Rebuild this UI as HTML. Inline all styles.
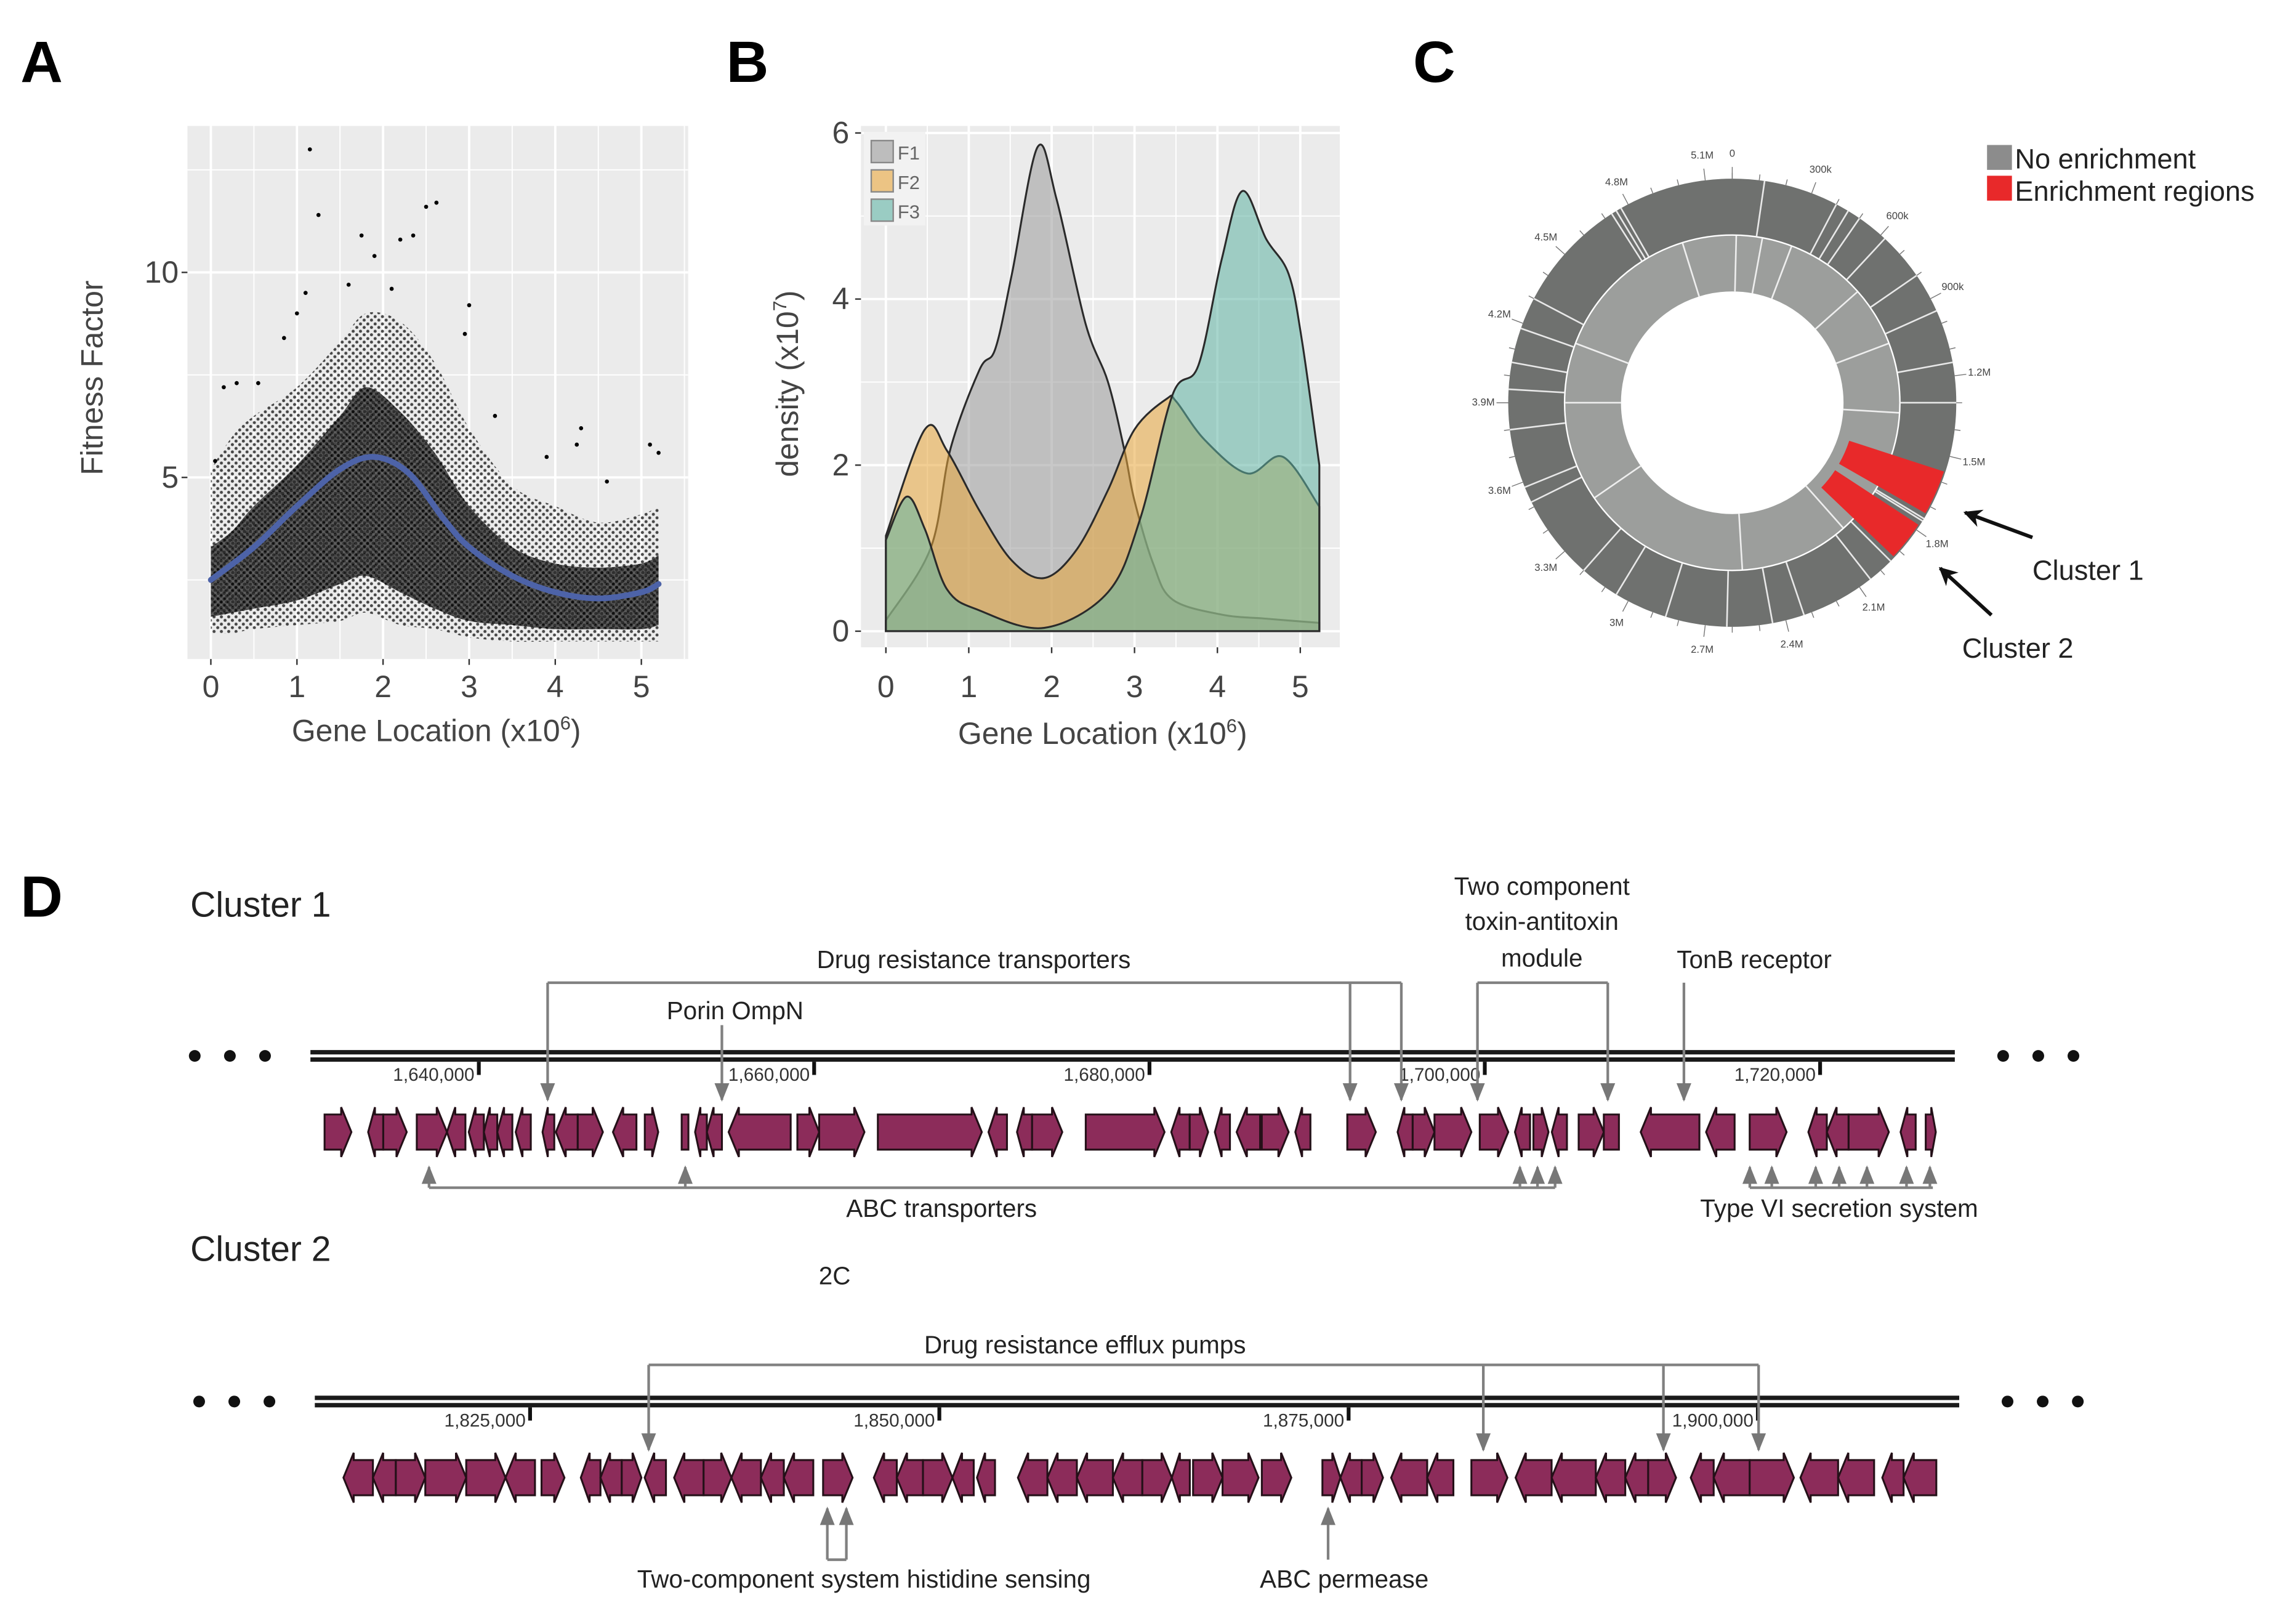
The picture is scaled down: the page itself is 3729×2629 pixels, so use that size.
<!DOCTYPE html>
<html><head><meta charset="utf-8">
<style>
html,body{margin:0;padding:0;background:#fff;}
svg{display:block;}
text{font-family:"Liberation Sans",sans-serif;}
</style></head>
<body>
<svg id="fig" width="3729" height="2629" viewBox="0 0 1568 1105.5" preserveAspectRatio="none" xmlns="http://www.w3.org/2000/svg">
<defs>
<pattern id="dots" width="5" height="5" patternUnits="userSpaceOnUse">
<circle cx="1.2" cy="1.2" r="1.05" fill="#000"/><circle cx="3.7" cy="3.6" r="1.05" fill="#000"/>
</pattern>
<pattern id="dots2" width="4" height="4" patternUnits="userSpaceOnUse">
<rect width="4" height="4" fill="#3a3a3a"/>
<circle cx="1" cy="1" r="1.2" fill="#000"/><circle cx="3" cy="3" r="1.2" fill="#000"/>
</pattern>
<marker id="ah" viewBox="0 0 10 10" refX="9" refY="5" markerWidth="7" markerHeight="7" orient="auto"><path d="M0,1 L10,5 L0,9 z" fill="#777"/></marker>
<marker id="ahk" viewBox="0 0 10 10" refX="9" refY="5" markerWidth="5" markerHeight="5" orient="auto"><path d="M0,0 L10,5 L0,10 L3,5 z" fill="#111"/></marker>
</defs>
<g id="root"></g>
</svg>
<script>
// ---------- Panel A data ----------
const aX = [0,0.25,0.5,1,1.5,1.8,2.2,2.6,3,3.5,4,4.5,5,5.2];
const aLo = [1.2,1.2,1.3,1.4,1.5,1.7,1.4,1.3,1.1,1.0,1.0,1.0,1.0,1.0];
const aHi = [5.2,6.0,6.5,7.2,8.3,9.0,8.8,7.8,6.2,4.8,4.3,3.9,4.1,4.3];
const aCoreLo = [1.6,1.7,1.8,2.0,2.4,2.6,2.2,1.8,1.5,1.4,1.3,1.3,1.3,1.4];
const aCoreHi = [3.3,3.7,4.3,5.3,6.5,7.2,6.6,5.6,4.3,3.3,2.9,2.8,2.9,3.1];
const aOutX = [1.15,1.25,2.5,2.62,1.1,2.2,2.35,1.75,1.9,4.3,4.25,5.1,0.3,0.55,3.0,2.95,2.1,0.85,1.0,3.3,3.9,4.6,5.2,0.05,0.15,1.6];
const aOutY = [13.0,11.4,11.6,11.7,9.5,10.8,10.9,10.9,10.4,6.2,5.8,5.8,7.3,7.3,9.2,8.5,9.6,8.4,9.0,6.5,5.5,4.9,5.6,5.4,7.2,9.7];
const smX = [0,0.5,1,1.5,1.9,2.3,2.7,3,3.5,4,4.5,5,5.2];
const smY = [2.5,3.3,4.3,5.2,5.5,5.1,4.0,3.3,2.6,2.2,2.05,2.2,2.4];
const aXTicks = [0,1,2,3,4,5];
const aYTicks = [5,10];
// ---------- Panel B data ----------
const f1X = [0,0.54,0.78,1.13,1.32,1.52,1.83,2.06,2.41,2.68,2.88,3.0,3.23,3.46,4.05,4.6,5.23];
const f1Y = [0.13,1.0,2.2,3.15,3.4,4.3,5.83,5.2,3.7,3.0,2.17,1.57,0.8,0.38,0.2,0.15,0.1];
const f2X = [0,0.47,0.74,1.13,1.52,1.91,2.3,2.68,3.0,3.39,3.5,3.85,4.36,4.79,5.23];
const f2Y = [1.15,2.43,2.17,1.45,0.85,0.64,0.98,1.7,2.43,2.8,2.77,2.3,1.9,2.1,1.5];
const f3X = [0,0.25,0.47,0.74,1.13,1.91,2.68,3.07,3.46,3.77,4.05,4.3,4.59,4.86,5.02,5.23];
const f3Y = [1.1,1.62,1.23,0.5,0.25,0.04,0.47,1.36,2.85,3.2,4.47,5.3,4.72,4.3,3.5,2.0];
const bXTicks = [0,1,2,3,4,5];
const bYTicks = [0,2,4,6];
// ---------- Panel C data ----------
const cTickLabels = ["0","300k","600k","900k","1.2M","1.5M","1.8M","2.1M","2.4M","2.7M","3M","3.3M","3.6M","3.9M","4.2M","4.5M","4.8M","5.1M"];
const cTickPos = [0,0.3,0.6,0.9,1.2,1.5,1.8,2.1,2.4,2.7,3.0,3.3,3.6,3.9,4.2,4.5,4.8,5.1];
const cEnrichStart = [1.56,1.78];
const cEnrichEnd = [1.73,1.93];
const cGapsOuter = [0.12,0.45,0.62,0.95,1.15,1.75,1.76,1.95,2.05,2.33,2.45,2.62,2.85,3.05,3.2,3.52,3.58,3.8,3.95,4.05,4.18,4.3,4.73,4.75,4.77,0.4,0.5,0.8,1.3];
const cGapsInner = [0.02,0.15,0.3,1.35,2.0,2.55,3.4,3.9,4.2,4.95,0.7,1.0];
// ---------- Panel D data (kb) ----------
const c1Start = [1630.8,1633.4,1634.3,1636.3,1638.1,1639.4,1640.3,1641.1,1642.2,1643.8,1644.6,1645.9,1648.0,1649.9,1652.1,1652.9,1653.6,1654.9,1659.0,1660.3,1663.8,1670.4,1672.1,1673.0,1676.2,1681.3,1682.4,1683.9,1685.2,1686.7,1688.7,1691.8,1694.8,1695.7,1697.0,1699.7,1701.8,1702.9,1704.0,1705.6,1707.1,1709.3,1713.2,1715.8,1719.3,1720.4,1721.7,1724.8,1726.3];
const c1End = [1632.4,1634.3,1635.7,1638.1,1639.2,1640.3,1641.1,1642.0,1643.1,1644.5,1645.9,1647.4,1649.4,1650.7,1652.5,1653.6,1654.5,1658.6,1660.3,1663.0,1670.0,1671.5,1673.0,1674.8,1680.9,1682.4,1683.5,1684.8,1686.6,1688.3,1689.6,1693.5,1695.7,1697.0,1699.2,1701.4,1702.7,1703.8,1704.9,1707.1,1708.0,1712.8,1714.9,1718.0,1720.4,1721.7,1724.1,1725.7,1726.9];
const c1Dir = [1,-1,1,1,-1,-1,-1,-1,-1,-1,-1,1,-1,1,0,-1,-1,-1,1,1,1,-1,-1,1,1,-1,1,-1,-1,1,-1,1,-1,1,1,1,-1,1,-1,1,0,-1,-1,1,-1,-1,1,-1,1];
const c2Start = [1813.6,1815.4,1816.8,1818.6,1821.1,1823.5,1825.7,1828.1,1829.3,1830.6,1832.0,1833.8,1835.6,1837.3,1839.1,1840.5,1842.9,1846.0,1847.4,1849.0,1850.8,1852.3,1854.8,1856.6,1858.4,1860.6,1862.4,1864.2,1865.5,1867.3,1869.7,1873.4,1874.5,1875.8,1877.6,1879.8,1882.5,1885.2,1887.4,1890.1,1891.9,1893.3,1895.9,1897.3,1899.5,1902.6,1904.9,1907.6,1908.9];
const c2End = [1815.4,1816.8,1818.6,1821.1,1823.5,1825.3,1827.1,1829.3,1830.6,1831.8,1833.3,1835.6,1837.3,1839.1,1840.5,1842.3,1844.7,1847.4,1849.0,1850.8,1852.1,1853.4,1856.6,1858.4,1860.6,1862.4,1864.2,1865.3,1867.3,1869.5,1871.5,1874.5,1875.8,1877.1,1879.8,1881.4,1884.7,1887.4,1890.1,1891.9,1893.3,1895.0,1897.3,1899.5,1902.2,1904.9,1907.1,1908.9,1910.9];
const c2Dir = [-1,-1,1,1,1,-1,1,-1,-1,1,-1,-1,1,-1,-1,-1,1,-1,-1,1,-1,-1,-1,-1,-1,-1,1,-1,1,1,1,1,-1,1,-1,-1,1,-1,-1,-1,-1,1,-1,-1,1,-1,-1,-1,-1];
const c1Ticks = [1640000,1660000,1680000,1700000,1720000];
const c2Ticks = [1825000,1850000,1875000,1900000];

// ---------- helpers ----------
const NS="http://www.w3.org/2000/svg";
const root=document.getElementById('root');
function mk(tag,attrs,parent,txt){const e=document.createElementNS(NS,tag);for(const k in attrs)e.setAttribute(k,attrs[k]);if(txt!==undefined)e.textContent=txt;(parent||root).appendChild(e);return e;}
function smooth(pts){let d="M"+pts[0][0]+","+pts[0][1];for(let i=0;i<pts.length-1;i++){const p0=pts[i-1]||pts[i],p1=pts[i],p2=pts[i+1],p3=pts[i+2]||p2;const c1x=p1[0]+(p2[0]-p0[0])/6,c1y=p1[1]+(p2[1]-p0[1])/6,c2x=p2[0]-(p3[0]-p1[0])/6,c2y=p2[1]-(p3[1]-p1[1])/6;d+=` C${c1x},${c1y} ${c2x},${c2y} ${p2[0]},${p2[1]}`;}return d;}
function smoothBody(pts){return smooth(pts).replace(/^M[^C]*/,"");}

// ---------- Panel A ----------
let t=mk('text',{x:14,y:56,'font-size':40,'font-weight':'bold'},root,'A');


const gA=mk('g',{});


const ax=v=>144+v*58.8, ay=v=>466-v*28;
let bg=mk('rect',{x:128,y:86,width:342,height:364,fill:'#ebebeb'},gA);


for(let v=0;v<=5.5;v+=0.5){if(ax(v)<470)mk('line',{x1:ax(v),x2:ax(v),y1:86,y2:450,stroke:'#fff','stroke-width':Number.isInteger(v)?1.6:0.8},gA);}
for(let v=2.5;v<=13;v+=2.5){mk('line',{x1:128,x2:470,y1:ay(v),y2:ay(v),stroke:'#fff','stroke-width':(v%5===0)?1.6:0.8},gA);}
const outer=aX.map((x,i)=>[ax(x),ay(aHi[i])]),outerLo=aX.map((x,i)=>[ax(x),ay(aLo[i])]).reverse();
let ob=mk('path',{d:smooth(outer)+" L"+outerLo[0][0]+","+outerLo[0][1]+smoothBody(outerLo)+"Z",fill:'url(#dots)',opacity:0.7},gA);


const core=aX.map((x,i)=>[ax(x),ay(aCoreHi[i])]),coreLo=aX.map((x,i)=>[ax(x),ay(aCoreLo[i])]).reverse();
let cb=mk('path',{d:smooth(core)+" L"+coreLo[0][0]+","+coreLo[0][1]+smoothBody(coreLo)+"Z",fill:'url(#dots2)',opacity:0.8},gA);


aOutX.forEach((x,i)=>{const c=mk('circle',{cx:ax(x),cy:ay(aOutY[i]),r:1.4,fill:'#000'},gA);

});
let sm=mk('path',{d:smooth(smX.map((x,i)=>[ax(x),ay(smY[i])])),fill:'none',stroke:'#4d63a8','stroke-width':4,'stroke-linecap':'round'},gA);


aXTicks.forEach(v=>{mk('line',{x1:ax(v),x2:ax(v),y1:450,y2:454,stroke:'#333'},gA);
const tt=mk('text',{x:ax(v),y:476,'font-size':21,'text-anchor':'middle',fill:'#444'},gA,String(v));

});
aYTicks.forEach(v=>{mk('line',{x1:124,x2:128,y1:ay(v),y2:ay(v),stroke:'#333'},gA);
const tt=mk('text',{x:122,y:ay(v)+7,'font-size':21,'text-anchor':'end',fill:'#444'},gA,String(v));

});
t=mk('text',{x:298,y:506,'font-size':21,'text-anchor':'middle',fill:'#444'},gA);
t.innerHTML='Gene Location (x10<tspan dy="-8" font-size="13">6</tspan><tspan dy="8">)</tspan>';


t=mk('text',{x:70,y:258,'font-size':21,'text-anchor':'middle',fill:'#444',transform:'rotate(-90 70 258)'},gA,'Fitness Factor');



// ---------- Panel B ----------
t=mk('text',{x:496,y:56,'font-size':40,'font-weight':'bold'},root,'B');


const gB=mk('g',{});


const bx=v=>605+v*56.6, by=v=>431-v*56.7;
bg=mk('rect',{x:588,y:86,width:327,height:356,fill:'#ebebeb'},gB);


for(let v=0;v<=5.5;v+=0.5){if(bx(v)<915)mk('line',{x1:bx(v),x2:bx(v),y1:86,y2:442,stroke:'#fff','stroke-width':Number.isInteger(v)?1.6:0.8},gB);}
for(let v=0;v<=6;v+=1){mk('line',{x1:588,x2:915,y1:by(v),y2:by(v),stroke:'#fff','stroke-width':(v%2===0)?1.6:0.8},gB);}
function dens(xs,ys,fill,name){const pts=xs.map((x,i)=>[bx(x),by(ys[i])]);
const d=smooth(pts)+` L${bx(xs[xs.length-1])},${by(0)} L${bx(xs[0])},${by(0)} Z`;
const p=mk('path',{d:d,fill:fill,'fill-opacity':0.55,stroke:'#2a2a2a','stroke-width':1.3},gB);

}
dens(f1X,f1Y,'#9a9a9a','density-f1');
dens(f2X,f2Y,'#e7a53a','density-f2');
dens(f3X,f3Y,'#5fb3a3','density-f3');
bXTicks.forEach(v=>{mk('line',{x1:bx(v),x2:bx(v),y1:442,y2:446,stroke:'#333'},gB);
const tt=mk('text',{x:bx(v),y:476,'font-size':21,'text-anchor':'middle',fill:'#444'},gB,String(v));

});
bYTicks.forEach(v=>{mk('line',{x1:584,x2:588,y1:by(v),y2:by(v),stroke:'#333'},gB);
const tt=mk('text',{x:580,y:by(v)+7,'font-size':21,'text-anchor':'end',fill:'#444'},gB,String(v));

});
t=mk('text',{x:753,y:508,'font-size':21,'text-anchor':'middle',fill:'#444'},gB);
t.innerHTML='Gene Location (x10<tspan dy="-8" font-size="13">6</tspan><tspan dy="8">)</tspan>';


t=mk('text',{x:545,y:262,'font-size':21,'text-anchor':'middle',fill:'#444',transform:'rotate(-90 545 262)'},gB);
t.innerHTML='density (x10<tspan dy="-8" font-size="13">7</tspan><tspan dy="8">)</tspan>';


const lg=mk('g',{},gB);


mk('rect',{x:590,y:90,width:42,height:64,fill:'#f2f2f2'},lg);
[['F1','#9a9a9a'],['F2','#e7a53a'],['F3','#5fb3a3']].forEach((e,i)=>{
const r=mk('rect',{x:595,y:96+i*20,width:15,height:15,fill:e[1],'fill-opacity':0.6,stroke:'#888'},lg);


const tt=mk('text',{x:613,y:109+i*20,'font-size':13,fill:'#666'},lg,e[0]);

});

// ---------- Panel C ----------
t=mk('text',{x:965,y:56,'font-size':40,'font-weight':'bold'},root,'C');


const gC=mk('g',{});


const CX=1183,CY=275,L=5.2;
const ang=m=>m/L*2*Math.PI;
const pol=(m,r)=>[CX+r*Math.sin(ang(m)),CY-r*Math.cos(ang(m))];
function arc(m1,m2,r1,r2){const a=pol(m1,r2),b=pol(m2,r2),c=pol(m2,r1),d=pol(m1,r1);const lg=(m2-m1)/L>0.5?1:0;
return `M${a[0]},${a[1]} A${r2},${r2} 0 ${lg} 1 ${b[0]},${b[1]} L${c[0]},${c[1]} A${r1},${r1} 0 ${lg} 0 ${d[0]},${d[1]} Z`;}
let ring=mk('circle',{cx:CX,cy:CY,r:134,fill:'none',stroke:'#6f716f','stroke-width':38},gC);


ring=mk('circle',{cx:CX,cy:CY,r:95,fill:'none',stroke:'#9c9e9c','stroke-width':38},gC);


cGapsOuter.forEach(m=>{const a=pol(m,115),b=pol(m,153);mk('line',{x1:a[0],y1:a[1],x2:b[0],y2:b[1],stroke:'#e8e8e8','stroke-width':1.1},gC);});
cGapsInner.forEach(m=>{const a=pol(m,76),b=pol(m,114);mk('line',{x1:a[0],y1:a[1],x2:b[0],y2:b[1],stroke:'#eee','stroke-width':1.1},gC);});
cEnrichStart.forEach((s,i)=>{const p=mk('path',{d:arc(s,cEnrichEnd[i],84,152),fill:'#e8292a'},gC);

});
for(let m=0;m<L;m+=0.1){const a=pol(m,153),b=pol(m,(Math.round(m*10)%3===0)?161:157);mk('line',{x1:a[0],y1:a[1],x2:b[0],y2:b[1],stroke:'#777','stroke-width':0.6},gC);}
cTickLabels.forEach((lab,i)=>{const p=pol(cTickPos[i],170);const tt=mk('text',{x:p[0],y:p[1]+2,'font-size':7,'text-anchor':'middle',fill:'#444'},gC,lab);

});
const lgC=mk('g',{},gC);


mk('rect',{x:1357,y:99,width:17,height:17,fill:'#8c8c8c'},lgC);
mk('rect',{x:1357,y:120,width:17,height:17,fill:'#e8292a'},lgC);
t=mk('text',{x:1376,y:115,'font-size':19,fill:'#222'},lgC,'No enrichment');


t=mk('text',{x:1376,y:137,'font-size':19,fill:'#222'},lgC,'Enrichment regions');


mk('line',{x1:1388,y1:367,x2:1342,y2:350,stroke:'#111','stroke-width':2.5,'marker-end':'url(#ahk)'},gC);
mk('line',{x1:1360,y1:420,x2:1325,y2:388,stroke:'#111','stroke-width':2.5,'marker-end':'url(#ahk)'},gC);
t=mk('text',{x:1388,y:396,'font-size':19,fill:'#222'},gC,'Cluster 1');


t=mk('text',{x:1340,y:449,'font-size':19,fill:'#222'},gC,'Cluster 2');



// ---------- Panel D ----------
t=mk('text',{x:14,y:626,'font-size':40,'font-weight':'bold'},root,'D');


function track(cfg){
const g=mk('g',{});


const X=kb=>cfg.x0+(kb-cfg.kb0)*cfg.scale;
t=mk('text',{x:130,y:cfg.titleY,'font-size':24,fill:'#222'},g,cfg.title);


mk('rect',{x:cfg.lx1,y:cfg.ty,width:cfg.lx2-cfg.lx1,height:3,fill:'#1a1a1a'},g);
mk('rect',{x:cfg.lx1,y:cfg.ty+5,width:cfg.lx2-cfg.lx1,height:3,fill:'#1a1a1a'},g);
[0,24,48].forEach(d=>{mk('circle',{cx:cfg.lx1-79+d,cy:cfg.ty+4,r:4,fill:'#111'},g);mk('circle',{cx:cfg.lx2+33+d,cy:cfg.ty+4,r:4,fill:'#111'},g);});
cfg.ticks.forEach(v=>{const x=X(v/1000);mk('rect',{x:x-1.3,y:cfg.ty+8,width:2.6,height:9,fill:'#111'},g);
const tt=mk('text',{x:x-3,y:cfg.ty+21,'font-size':12.5,'text-anchor':'end',fill:'#333'},g,v.toLocaleString('en-US'));

});
const gy=cfg.gy;
cfg.s.forEach((s,i)=>{const x1=X(s),x2=X(cfg.e[i]),dir=cfg.d[i];let pts;
const h=Math.min(7,(x2-x1)*0.45);
if(dir===0){pts=[[x1,gy-12],[x2,gy-12],[x2,gy+12],[x1,gy+12]];}
else if(dir>0){pts=[[x1,gy-12],[x2-h,gy-12],[x2-h,gy-17],[x2,gy],[x2-h,gy+17],[x2-h,gy+12],[x1,gy+12]];}
else{pts=[[x2,gy-12],[x1+h,gy-12],[x1+h,gy-17],[x1,gy],[x1+h,gy+17],[x1+h,gy+12],[x2,gy+12]];}
const p=mk('polygon',{points:pts.map(q=>q.join(',')).join(' '),fill:'#8c2c5a',stroke:'#241018','stroke-width':1.3,'stroke-linejoin':'miter'},g);

});
return g;}
const g1=track({name:'cluster-1-track',title:'Cluster 1',titleY:626,x0:327,kb0:1640,scale:11.45,lx1:212,lx2:1335,ty:717,gy:773,s:c1Start,e:c1End,d:c1Dir,ticks:c1Ticks});
const g2=track({name:'cluster-2-track',title:'Cluster 2',titleY:861,x0:362,kb0:1825,scale:11.18,lx1:215,lx2:1338,ty:953,gy:1009,s:c2Start,e:c2End,d:c2Dir,ticks:c2Ticks});
t=mk('text',{x:570,y:877,'font-size':17,'text-anchor':'middle',fill:'#222'},root,'2C');



function ann(name,lines,labels,g){const a=mk('g',{},g);


lines.forEach(l=>mk('polyline',{points:l.pts,fill:'none',stroke:'#808080','stroke-width':1.8,'marker-end':l.arrow?'url(#ah)':''},a));
labels.forEach(l=>{const tt=mk('text',{x:l[0],y:l[1],'font-size':17,'text-anchor':'middle',fill:'#222'},a,l[2]);

});}
const dn=(x,y1,y2)=>({pts:`${x},${y1} ${x},${y2}`,arrow:true});
ann('drug-resistance-transporters',[{pts:'374,671 957,671'},dn(374,671,751),dn(922,671,751),dn(957,671,751)],[[665,661,'Drug resistance transporters']],g1);
ann('porin-ompn',[dn(493,700,751)],[[502,696,'Porin OmpN']],g1);
ann('toxin-antitoxin-module',[{pts:'1009,671 1098,671'},dn(1009,671,751),dn(1098,671,751)],[[1053,611,'Two component'],[1053,635,'toxin-antitoxin'],[1053,660,'module']],g1);
ann('tonb-receptor',[dn(1150,671,751)],[[1198,661,'TonB receptor']],g1);
ann('abc-transporters',[{pts:'293,811 1062,811'}].concat([293,468,1038,1050,1062].map(x=>dn(x,811,797))),[[643,831,'ABC transporters']],g1);
ann('type-vi-secretion',[{pts:'1195,811 1320,811'}].concat([1195,1210,1240,1256,1275,1302,1318].map(x=>dn(x,811,797))),[[1256,831,'Type VI secretion system']],g1);
ann('drug-resistance-efflux-pumps',[{pts:'443,932 1201,932'},dn(443,932,990),dn(1013,932,990),dn(1136,932,990),dn(1201,932,990)],[[741,924,'Drug resistance efflux pumps']],g2);
ann('two-component-histidine',[{pts:'565,1065 578,1065'},dn(565,1065,1030),dn(578,1065,1030)],[[590,1084,'Two-component system histidine sensing']],g2);
ann('abc-permease',[dn(907,1065,1030)],[[918,1084,'ABC permease']],g2);
</script>
</body></html>
